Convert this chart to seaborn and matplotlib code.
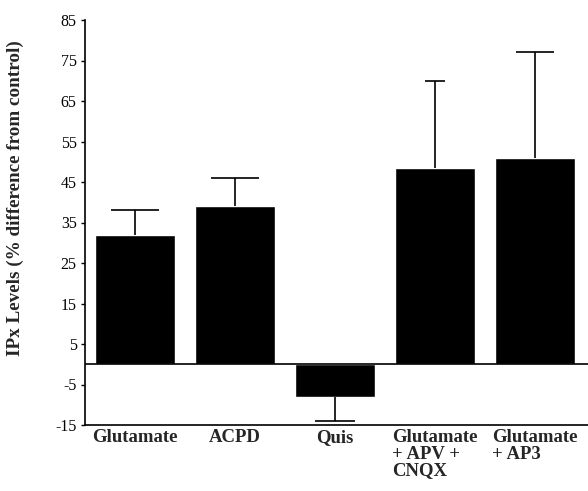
import matplotlib
matplotlib.use("Agg")
import matplotlib.pyplot as plt
import seaborn as sns
import pandas as pd
import numpy as np

categories = ["Glutamate", "ACPD", "Quis", "Glutamate\n+ APV +\nCNQX", "Glutamate\n+ AP3"]
values = [32, 39, -8, 48.5, 51]
errors = [6, 7, 6, 21.5, 26]
cap_halfwidths = [0.24, 0.24, 0.2, 0.1, 0.19]

sns.set_theme(style="ticks")
plt.rcParams['font.family'] = ['Liberation Serif', 'DejaVu Serif']

fig = plt.figure(figsize=(5.88, 4.91), dpi=100)
ax = fig.add_axes([85/588, 66/491, 503/588, 405/491])

df = pd.DataFrame({"cat": categories, "val": values})
sns.barplot(data=df, x="cat", y="val", color="black", width=0.8, ax=ax,
            saturation=1, errorbar=None)

x = np.arange(len(values))
vals = np.array(values)
errs = np.array(errors)
ends = np.where(vals >= 0, vals + errs, vals - errs)
hw = np.array(cap_halfwidths)
ax.vlines(x, vals, ends, color="black", lw=1.2)
ax.hlines(ends, x - hw, x + hw, color="black", lw=1.2)

ax.axhline(0, color="black", lw=1.2)
ax.set_ylim(-15, 85)
ax.set_xlim(-0.5, 4.53)
ax.set_yticks(np.arange(-15, 86, 10))
ax.set_yticklabels([str(t) for t in np.arange(-15, 86, 10)], fontsize=11.5)
ax.set_xticks(x)
ax.set_xticklabels(categories, fontsize=13.5, fontweight="bold", ha="center",
                   multialignment="left", va="top", linespacing=0.95)
ax.tick_params(axis="x", length=0, pad=3)
ax.tick_params(axis="y", length=3, width=1, pad=3, colors="black")
ax.set_xlabel("")
ax.set_ylabel("IPx Levels (% difference from control)", fontsize=13.8,
              fontweight="bold")
ax.yaxis.set_label_coords(-0.122, 0.56)
for s in ["top", "right"]:
    ax.spines[s].set_visible(False)
for s in ["left", "bottom"]:
    ax.spines[s].set_color("black")
    ax.spines[s].set_linewidth(1.2)

fig.savefig("out.png", dpi=100)
